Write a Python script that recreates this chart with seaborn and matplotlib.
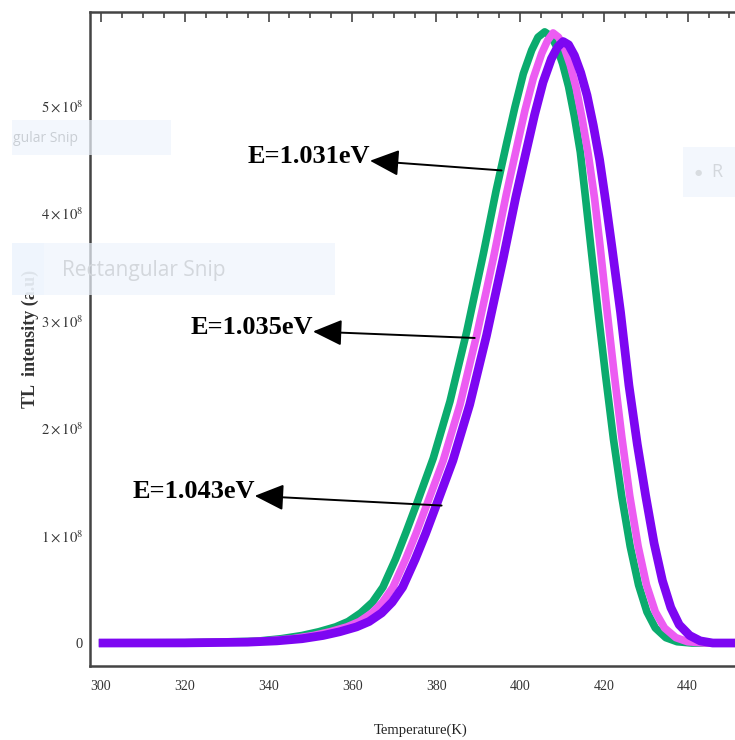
import numpy as np
import pandas as pd
import matplotlib
matplotlib.use('Agg')
import matplotlib.pyplot as plt
import seaborn as sns
from matplotlib.patches import Rectangle
from matplotlib.ticker import MultipleLocator

# glow curves (temperature in K, intensity in units of 1e8 a.u.)
temp_1031 = [299.5, 320, 335, 338, 343, 348, 352, 356, 359, 362, 364.8, 367.3, 370.3, 372.8,
             375.3, 379.3, 383.3, 387.3, 391.3, 394.3, 396.8, 398.8, 400.8, 402.8, 404.3, 405.9,
             407.4, 408.8, 410.2, 411.6, 413.0, 414.4, 415.6, 417.0, 418.6, 420.4, 422.3, 424.3,
             426.3, 428.3, 430.3, 432.3, 434.8, 437.5, 441, 455.5]
int_1031 = [0, 0.003, 0.015, 0.02, 0.04, 0.07, 0.105, 0.15, 0.20, 0.28, 0.38, 0.52, 0.78, 1.03,
            1.29, 1.72, 2.25, 2.90, 3.63, 4.21, 4.65, 4.99, 5.30, 5.52, 5.64, 5.69,
            5.65, 5.55, 5.39, 5.18, 4.90, 4.57, 4.16, 3.66, 3.10, 2.50, 1.90, 1.36,
            0.90, 0.54, 0.29, 0.14, 0.05, 0.012, 0, 0]

temp_1035 = [299.5, 320, 335, 339.7, 345.7, 350.7, 354.7, 358.7, 361.7, 364.7, 367.2, 369.7,
             372.7, 375.2, 377.7, 381.7, 385.7, 389.7, 393.7, 396.7, 399.2, 401.2, 403.2, 405.2,
             406.6, 407.9, 409.2, 410.6, 412.0, 413.4, 414.8, 416.3, 417.8, 419.1, 420.7, 422.5,
             424.3, 426.2, 428.2, 430.2, 432.3, 434.5, 437.2, 440, 444, 455.5]
int_1035 = [0, 0.002, 0.012, 0.02, 0.04, 0.07, 0.105, 0.15, 0.20, 0.28, 0.38, 0.52,
            0.78, 1.02, 1.28, 1.70, 2.22, 2.87, 3.59, 4.17, 4.61, 4.96, 5.26, 5.49,
            5.61, 5.68, 5.64, 5.54, 5.38, 5.17, 4.89, 4.55, 4.14, 3.70, 3.12, 2.50,
            1.92, 1.37, 0.90, 0.54, 0.29, 0.14, 0.05, 0.012, 0, 0]

temp_1043 = [299.5, 320, 335, 342, 348, 353, 357, 361, 364, 367, 369.5, 372, 375, 377.5, 380,
             384, 388, 392, 396, 399, 401.5, 403.5, 405.5, 407.5, 409, 410.3, 411.6, 413,
             414.5, 416, 417.5, 419, 420.5, 422, 424, 426, 428, 430, 432, 434, 436, 438,
             440.5, 443, 446, 455.5]
int_1043 = [0, 0.001, 0.008, 0.02, 0.04, 0.07, 0.105, 0.15, 0.20, 0.28, 0.38, 0.52, 0.78, 1.02, 1.28,
            1.70, 2.22, 2.86, 3.58, 4.15, 4.58, 4.92, 5.22, 5.44, 5.55, 5.60, 5.57, 5.47,
            5.31, 5.10, 4.82, 4.50, 4.10, 3.67, 3.08, 2.40, 1.85, 1.37, 0.93, 0.58, 0.33, 0.17,
            0.07, 0.02, 0, 0]

labels = ['E=1.031eV', 'E=1.035eV', 'E=1.043eV']
x_ticks = [300, 320, 340, 360, 380, 400, 420, 440]
y_ticks = [0, 1, 2, 3, 4, 5]
y_tick_labels = ['0'] + [r'$%d\times10^{8}$' % v for v in y_ticks[1:]]

# arrow tip / tail for each label (data coords)
arrow_tips = [(364.2, 4.49e8), (350.6, 2.90e8), (336.7, 1.37e8)]
arrow_tails = [(395.6, 4.40e8), (389.2, 2.84e8), (381.3, 1.28e8)]

colors = ['#0bab6e', '#ec5cf2', '#7d06f2']
widths = [5.5, 5.5, 6.3]

frames = []
for lab, t, i in [(labels[0], temp_1031, int_1031),
                  (labels[1], temp_1035, int_1035),
                  (labels[2], temp_1043, int_1043)]:
    frames.append(pd.DataFrame({'T': t, 'I': np.array(i) * 1e8, 'E': lab}))
df = pd.concat(frames, ignore_index=True)

sns.set_style('white')
plt.rcParams['font.family'] = ['Liberation Serif', 'DejaVu Serif']
plt.rcParams['mathtext.fontset'] = 'stix'

fig = plt.figure(figsize=(7.35, 7.40), dpi=100)
ax = fig.add_axes([90 / 735, 74 / 740, (752 - 90) / 735, 654 / 740])

for lab, c, w in zip(labels, colors, widths):
    sns.lineplot(data=df[df['E'] == lab], x='T', y='I', color=c, linewidth=w,
                 sort=False, ax=ax, legend=False, solid_capstyle='butt',
                 solid_joinstyle='round')

ax.set_xlim(297.4, 455.37)
ax.set_ylim(-0.214e8, 5.875e8)

ax.set_xticks(x_ticks)
ax.set_xticklabels([str(v) for v in x_ticks])
ax.xaxis.set_minor_locator(MultipleLocator(5))
ax.set_yticks([v * 1e8 for v in y_ticks])
ax.set_yticklabels(y_tick_labels)
ax.yaxis.set_minor_locator(MultipleLocator(0.2e8))

ax.tick_params(which='both', direction='in', top=True, right=True, color='#444444', width=1.2)
ax.tick_params(which='major', length=7)
ax.tick_params(which='minor', length=4)
ax.tick_params(axis='x', labelsize=10, labelcolor='#333333', pad=10)
ax.tick_params(axis='y', labelsize=10.5, labelcolor='#333333', pad=5)
for s in ax.spines.values():
    s.set_color('#444444')
    s.set_linewidth(1.8)

ax.set_xlabel('Temperature(K)', fontsize=10.5, color='#222222', labelpad=22)
ax.set_ylabel('TL  intensity (a.u)', fontsize=13, fontweight='bold', color='#333333', labelpad=1)

for lab, tip, tail in zip(labels, arrow_tips, arrow_tails):
    ax.annotate('', xy=tip, xytext=tail,
                arrowprops=dict(arrowstyle='-|>,head_length=1.0,head_width=0.45',
                                mutation_scale=18, color='black', lw=1.4,
                                shrinkA=0, shrinkB=0))
    ax.text(tip[0], tip[1] + 0.04e8, lab, ha='right', va='center',
            fontsize=19, fontweight='bold', color='black')

# faint "Rectangular Snip" overlays from the screenshot
W, H = 735, 740
def snip_box(x0, y0, x1, y1):
    fig.add_artist(Rectangle((x0 / W, 1 - y1 / H), (x1 - x0) / W, (y1 - y0) / H,
                             transform=fig.transFigure, facecolor='#eef5fd',
                             edgecolor='none', alpha=0.7, zorder=5))

snip_box(12, 120, 171, 155)
fig.text(13 / W, 1 - 138 / H, 'gular Snip', fontsize=10, color='#c9ced4',
         family='Open Sans', va='center', zorder=6)
snip_box(12, 243, 335, 295)
snip_box(12, 243, 44, 295)
fig.text(62 / W, 1 - 270 / H, 'Rectangular Snip', fontsize=15, color='#d3d7dc',
         family='Open Sans', va='center', zorder=6)
snip_box(683, 147, 735, 197)
fig.text(698 / W, 1 - 173 / H, '\u25cf', fontsize=6, color='#d8dce0',
         family='DejaVu Sans', ha='center', va='center', zorder=6)
fig.text(711 / W, 1 - 172 / H, 'R', fontsize=13, color='#d3d7dc',
         family='Open Sans', va='center', zorder=6)

fig.savefig('out.png', dpi=100)
